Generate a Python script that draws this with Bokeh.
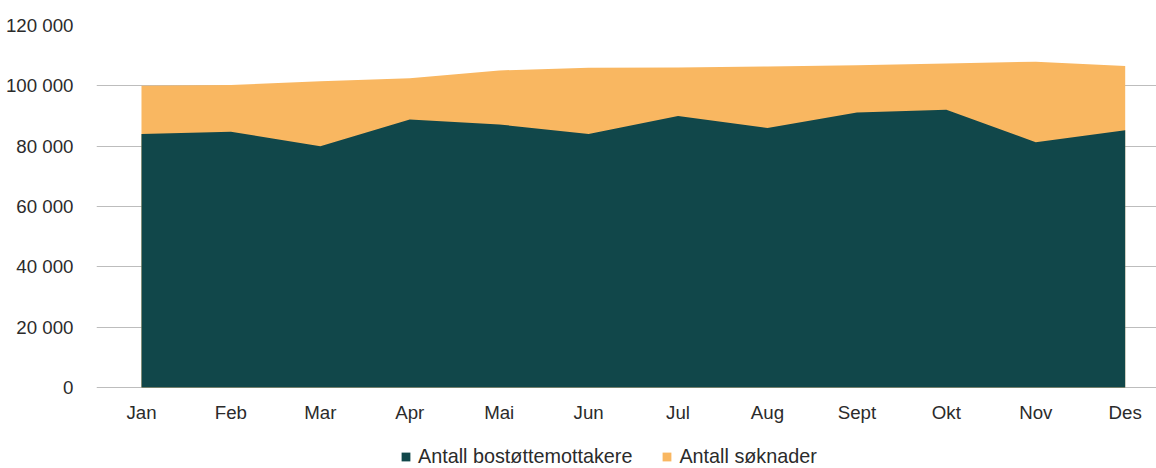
from bokeh.plotting import figure
from bokeh.models import Range1d, FixedTicker, Legend, LegendItem, ColumnDataSource
from bokeh.core.properties import value
from bokeh.embed import file_html
from bokeh.resources import INLINE

months = ["Jan", "Feb", "Mar", "Apr", "Mai", "Jun", "Jul", "Aug", "Sept", "Okt", "Nov", "Des"]
mottakere = [84000, 84800, 80000, 88800, 87200, 84000, 90000, 86000, 91200, 92100, 81300, 85300]
soknader = [100000, 100300, 101500, 102500, 105100, 106000, 106100, 106400, 106800, 107400, 108000, 106600]
y_ticks = [0, 20000, 40000, 60000, 80000, 100000, 120000]
y_tick_labels = ["0", "20 000", "40 000", "60 000", "80 000", "100 000", "120 000"]
series_names = ["Antall bostøttemottakere", "Antall søknader"]

GREEN = "#11474A"
ORANGE = "#F9B761"
FONT = "Liberation Sans"
TXT = "#2b2b2b"

x = list(range(len(months)))
src = ColumnDataSource(dict(x=x, m=mottakere, s=soknader, lab=months, zero=[0] * len(months)))

# frame spans from the 120 000 line down to the bottom of the picture;
# the space below zero holds the month labels and the legend
p = figure(frame_width=1060, frame_height=443, output_backend="svg", toolbar_location=None,
           x_range=Range1d(-0.503, 11.35), y_range=Range1d(-26850, 120000),
           min_border_left=96, min_border_right=0, min_border_top=25, min_border_bottom=0)
p.outline_line_color = None
p.background_fill_color = "white"

r_s = p.varea(x="x", y1="zero", y2="s", source=src, fill_color=ORANGE)
r_m = p.varea(x="x", y1="zero", y2="m", source=src, fill_color=GREEN)

# month labels (category axis labels), placed just below zero
p.text(x="x", y="zero", text="lab", source=src, y_offset=25,
       text_align="center", text_baseline="middle",
       text_font=value(FONT), text_font_size="18.7px", text_color=TXT)

p.xaxis.visible = False
p.xgrid.visible = False
p.ygrid.grid_line_color = "#bdbdbd"
p.ygrid.grid_line_width = 1
p.ygrid.level = "underlay"

p.yaxis.ticker = FixedTicker(ticks=y_ticks)
p.yaxis.major_label_overrides = {t: l for t, l in zip(y_ticks, y_tick_labels)}
ax = p.yaxis[0]
ax.axis_line_color = None
ax.major_tick_line_color = None
ax.minor_tick_line_color = None
ax.major_label_text_font = FONT
ax.major_label_text_font_size = "18.7px"
ax.major_label_text_color = TXT
ax.major_label_standoff = 17

legend = Legend(items=[LegendItem(label=series_names[0], renderers=[r_m]),
                       LegendItem(label=series_names[1], renderers=[r_s])],
                orientation="horizontal", location=(304, 0),
                glyph_width=11, glyph_height=11, label_standoff=7, spacing=29,
                label_height=20,
                label_text_font=FONT, label_text_font_size="19.8px", label_text_color=TXT,
                border_line_color=None, background_fill_alpha=0, margin=0, padding=0)
p.add_layout(legend, "center")

open("out.html", "w").write(file_html(p, INLINE))
